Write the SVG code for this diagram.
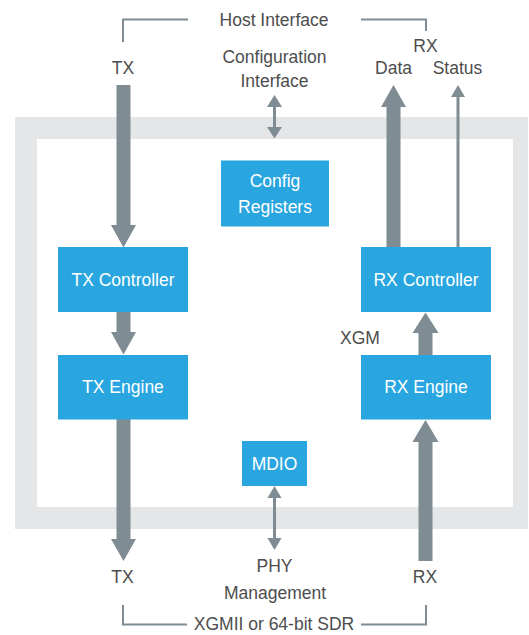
<svg xmlns="http://www.w3.org/2000/svg" width="529" height="635" viewBox="0 0 529 635">
<style>
  .box { fill: #29a6df; }
  .arrow { fill: #7f8c93; }
  .thin { stroke: #7f8c93; stroke-width: 3; fill: none; }
  .bracket { stroke: #7f8c93; stroke-width: 2; fill: none; }
  text { font-family: "Liberation Sans", Arial, sans-serif; font-size: 17.5px; text-anchor: middle; }
  .lbl { fill: #4d4d4d; }
  .in { fill: #ffffff; }
</style>
<rect width="529" height="635" fill="#ffffff"/>
<g id="frame">
  <rect x="15" y="117" width="513" height="412" fill="#e5e6e8"/>
  <rect x="37" y="139" width="476" height="368" fill="#ffffff"/>
</g>
<g id="connectors">
  <polyline class="bracket" points="123,42 123,19.5 188,19.5"/>
  <polyline class="bracket" points="361,19.5 426,19.5 426,31"/>
  <polyline class="bracket" points="123,605 123,624.5 187,624.5"/>
  <polyline class="bracket" points="361,624.5 426,624.5 426,605"/>
  <path class="arrow" d="M116.5,85 H130.5 V225 H136 L123.5,247.5 L111,225 H116.5 Z"/>
  <path class="arrow" d="M116.5,312 H130.5 V332 H136 L123.5,354.5 L111,332 H116.5 Z"/>
  <path class="arrow" d="M116.5,419 H130.5 V539 H136 L123.5,561 L111,539 H116.5 Z"/>
  <path class="arrow" d="M418.5,561 H432.5 V442 H438.5 L425.5,420 L412.5,442 H418.5 Z"/>
  <path class="arrow" d="M418.5,355 H432.5 V333 H438.5 L425.5,312.5 L412.5,333 H418.5 Z"/>
  <path class="arrow" d="M386.5,247 H400.5 V107 H406 L393.5,85 L381,107 H386.5 Z"/>
  <line class="thin" x1="458" y1="247" x2="458" y2="96" stroke-width="2.5"/>
  <path class="arrow" d="M451,97 L458,85 L465,97 Z"/>
  <line class="thin" x1="274.5" y1="105" x2="274.5" y2="129"/>
  <path class="arrow" d="M267,107 L274.5,95 L282,107 Z"/>
  <path class="arrow" d="M267,127 L274.5,138.5 L282,127 Z"/>
  <line class="thin" x1="274.5" y1="496" x2="274.5" y2="540"/>
  <path class="arrow" d="M267.5,498 L274.5,486 L281.5,498 Z"/>
  <path class="arrow" d="M267.5,538 L274.5,550 L281.5,538 Z"/>
</g>
<g id="labels">
  <text class="lbl" x="274" y="26">Host Interface</text>
  <text class="lbl" x="123" y="74">TX</text>
  <text class="lbl" x="274.5" y="63">Configuration</text>
  <text class="lbl" x="274.5" y="87">Interface</text>
  <text class="lbl" x="425.5" y="52">RX</text>
  <text class="lbl" x="393.5" y="74">Data</text>
  <text class="lbl" x="457.5" y="74">Status</text>
  <text class="lbl" x="340" y="344" style="text-anchor:start">XGM</text>
  <text class="lbl" x="122.5" y="583">TX</text>
  <text class="lbl" x="425" y="583">RX</text>
  <text class="lbl" x="274.5" y="572">PHY</text>
  <text class="lbl" x="275" y="599">Management</text>
  <text class="lbl" x="274" y="630">XGMII or 64-bit SDR</text>
</g>
<g id="config-registers">
  <rect class="box" x="221" y="160.5" width="108" height="66"/>
  <text class="in" x="275" y="187">Config</text>
  <text class="in" x="275" y="213">Registers</text>
</g>
<g id="tx-controller">
  <rect class="box" x="58" y="247" width="130" height="65"/>
  <text class="in" x="123" y="285.5">TX Controller</text>
</g>
<g id="tx-engine">
  <rect class="box" x="58" y="355" width="130" height="64.5"/>
  <text class="in" x="123" y="393">TX Engine</text>
</g>
<g id="rx-controller">
  <rect class="box" x="361" y="247" width="130" height="65"/>
  <text class="in" x="426" y="285.5">RX Controller</text>
</g>
<g id="rx-engine">
  <rect class="box" x="361" y="355" width="130" height="64.5"/>
  <text class="in" x="426" y="393">RX Engine</text>
</g>
<g id="mdio">
  <rect class="box" x="242" y="441" width="65" height="45"/>
  <text class="in" x="274.5" y="470">MDIO</text>
</g>
</svg>
